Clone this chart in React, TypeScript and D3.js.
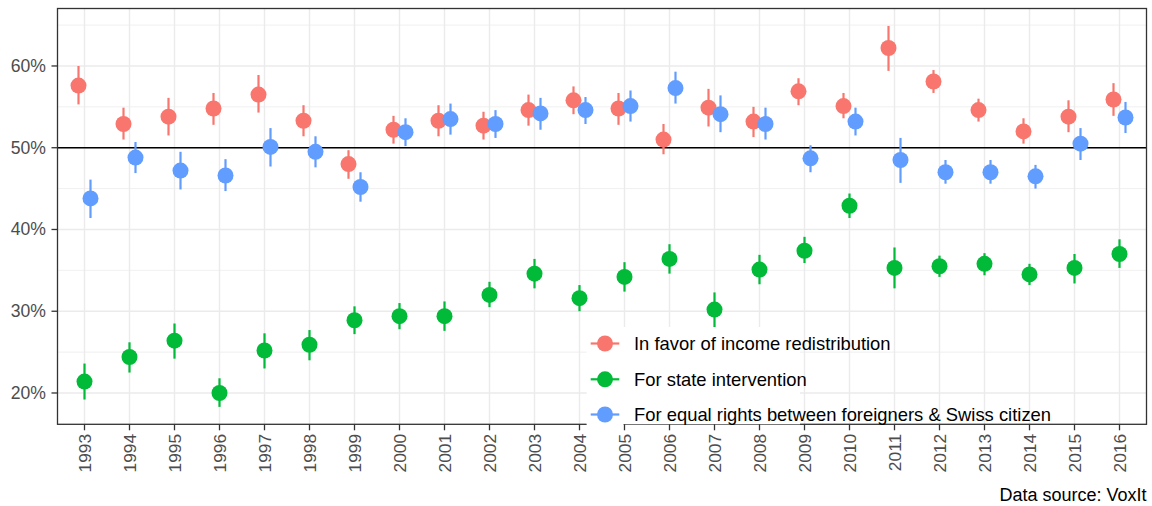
import React from "react";
import * as d3 from "d3";

const years = [1993,1994,1995,1996,1997,1998,1999,2000,2001,2002,2003,2004,2005,2006,2007,2008,2009,2010,2011,2012,2013,2014,2015,2016];

const seriesNames = [
  "In favor of income redistribution",
  "For state intervention",
  "For equal rights between foreigners & Swiss citizen",
];
const seriesColors = ["#F8766D", "#00BA38", "#619CFF"];

const redMean = [57.6,52.9,53.8,54.8,56.5,53.3,48.0,52.2,53.3,52.7,54.6,55.8,54.8,51.0,54.9,53.2,56.9,55.1,62.2,58.1,54.6,52.0,53.8,55.9];
const redLo   = [55.3,51.0,51.5,52.8,54.3,51.4,46.2,50.5,51.4,51.0,52.7,54.1,52.8,49.2,52.6,51.3,55.2,53.6,59.4,56.7,53.2,50.5,51.9,53.9];
const redHi   = [60.0,54.9,56.1,56.7,58.9,55.2,49.7,53.9,55.2,54.4,56.5,57.5,56.7,52.9,57.2,55.0,58.5,56.7,64.9,59.5,56.0,53.6,55.8,57.9];

const greenMean = [21.4,24.4,26.4,20.0,25.2,25.9,28.9,29.4,29.4,32.0,34.6,31.6,34.2,36.4,30.2,35.1,37.4,42.9,35.3,35.5,35.8,34.5,35.3,37.0];
const greenLo   = [19.2,22.5,24.2,18.3,23.0,24.0,27.2,27.8,27.6,30.5,32.8,30.0,32.4,34.6,28.0,33.3,35.9,41.4,32.8,34.2,34.4,33.2,33.4,35.3];
const greenHi   = [23.6,26.2,28.5,21.8,27.3,27.7,30.6,31.0,31.2,33.6,36.4,33.2,36.0,38.2,32.3,36.9,39.1,44.4,37.8,36.8,37.1,35.8,37.0,38.8];

const blueMean = [43.8,48.8,47.2,46.6,50.1,49.5,45.2,51.9,53.5,52.9,54.2,54.6,55.1,57.3,54.1,52.9,48.7,53.2,48.5,47.0,47.0,46.5,50.5,53.7];
const blueLo   = [41.4,46.9,44.9,44.7,47.7,47.6,43.4,50.2,51.6,51.2,52.2,52.9,53.2,55.4,51.9,51.0,47.0,51.5,45.7,45.6,45.6,45.0,48.5,51.8];
const blueHi   = [46.1,50.7,49.5,48.6,52.4,51.4,47.0,53.6,55.4,54.6,56.1,56.2,57.0,59.3,56.4,54.9,50.3,54.9,51.2,48.5,48.5,47.9,52.4,55.6];

const majorTicks = [20, 30, 40, 50, 60];
const minorTicks = [25, 35, 45, 55, 65];
const caption = "Data source: VoxIt";

export default function App() {
  const W = 1152, H = 506;
  const pL = 57.5, pR = 1146.5, pT = 8.5, pB = 424.3;
  const x = d3.scalePoint<number>().domain(years).range([pL, pR]).padding(0.6);
  const y = d3.scaleLinear().domain([16.17, 67.03]).range([pB, pT]);
  const step = x.step();
  const dodge = (0.4 / 3) * step;

  const series = [
    { mean: redMean, lo: redLo, hi: redHi },
    { mean: greenMean, lo: greenLo, hi: greenHi },
    { mean: blueMean, lo: blueLo, hi: blueHi },
  ];

  const axisColor = "#4D4D4D";
  const font = "'Liberation Sans', Arial, sans-serif";

  const legX = 586.7, legTop = 327, legRight = 800;
  const keyYs = [343.5, 379.3, 414.5];

  return (
    <svg width={W} height={H} style={{ position: "absolute", left: 0, top: 0, background: "#fff" }} fontFamily={font}>
      <rect x={0} y={0} width={W} height={H} fill="#fff" />
      {minorTicks.map((t) => (
        <line key={"mi" + t} x1={pL} x2={pR} y1={y(t)} y2={y(t)} stroke="#EBEBEB" strokeWidth={0.75} />
      ))}
      {majorTicks.map((t) => (
        <line key={"ma" + t} x1={pL} x2={pR} y1={y(t)} y2={y(t)} stroke="#EBEBEB" strokeWidth={1.45} />
      ))}
      {years.map((yr) => (
        <line key={"vx" + yr} x1={x(yr)} x2={x(yr)} y1={pT} y2={pB} stroke="#EBEBEB" strokeWidth={1.45} />
      ))}
      <line x1={pL} x2={pR} y1={y(50)} y2={y(50)} stroke="#000" strokeWidth={1.45} />
      {series.map((s, si) => (
        <g key={"s" + si}>
          {years.map((yr, i) => {
            const cx = (x(yr) as number) + (si - 1) * dodge;
            return (
              <g key={yr}>
                <line x1={cx} x2={cx} y1={y(s.lo[i])} y2={y(s.hi[i])} stroke={seriesColors[si]} strokeWidth={2.2} />
                <circle cx={cx} cy={y(s.mean[i])} r={8} fill={seriesColors[si]} />
              </g>
            );
          })}
        </g>
      ))}
      <rect x={pL} y={pT} width={pR - pL} height={pB - pT} fill="none" stroke="#333333" strokeWidth={1.3} />
      <rect x={legX} y={legTop} width={legRight - legX} height={pB - legTop} fill="#fff" />
      <rect x={legX} y={keyYs[2]} width={36.8} height={18} fill="#fff" />
      {seriesNames.map((nm, i) => (
        <g key={"lg" + i}>
          <line x1={590.7} x2={619.3} y1={keyYs[i]} y2={keyYs[i]} stroke={seriesColors[i]} strokeWidth={2.2} />
          <circle cx={605} cy={keyYs[i]} r={8} fill={seriesColors[i]} />
          <text x={634} y={keyYs[i]} dominantBaseline="central" fontSize={18.4} fill="#000">{nm}</text>
        </g>
      ))}
      {majorTicks.map((t) => (
        <g key={"yt" + t}>
          <line x1={51.5} x2={pL} y1={y(t)} y2={y(t)} stroke="#333333" strokeWidth={1.3} />
          <text x={46} y={y(t)} textAnchor="end" dominantBaseline="central" fontSize={17.6} fill={axisColor}>
            {t + "%"}
          </text>
        </g>
      ))}
      {years.map((yr) => (
        <g key={"xt" + yr}>
          <line x1={x(yr)} x2={x(yr)} y1={pB} y2={pB + 6} stroke="#333333" strokeWidth={1.3} />
          <text
            transform={`translate(${x(yr)},${pB + 9.5}) rotate(-90)`}
            textAnchor="end"
            dominantBaseline="central"
            fontSize={17.4}
            fill={axisColor}
          >
            {yr}
          </text>
        </g>
      ))}
      <text x={1146.5} y={500.5} textAnchor="end" fontSize={18} fill="#000">{caption}</text>
    </svg>
  );
}
